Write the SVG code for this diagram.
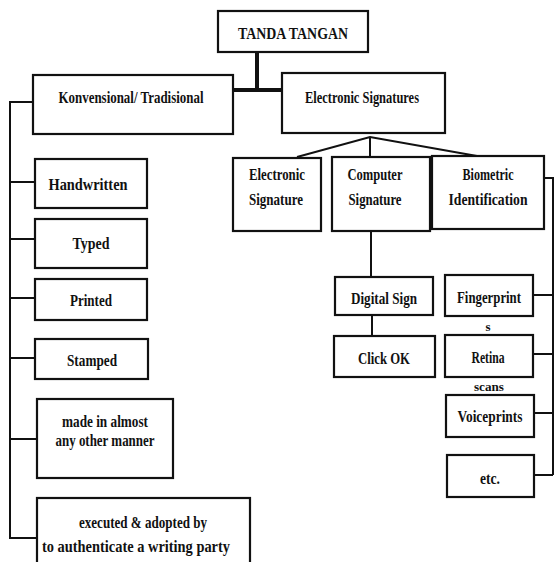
<svg xmlns="http://www.w3.org/2000/svg" width="555" height="562" viewBox="0 0 555 562">
<style>
.box{fill:#fff;stroke:#111;stroke-width:2.2}
.ln{fill:none;stroke:#111;stroke-width:2}
.thick{fill:none;stroke:#111;stroke-width:4}
text{font-family:"Liberation Serif","DejaVu Serif",serif;font-weight:bold;font-size:16.5px;fill:#111;text-anchor:middle;dominant-baseline:central}
.sm{font-size:13px}
</style>
<rect width="555" height="562" fill="#fff"/>
<g id="connectors">
<path class="thick" d="M257 52V90M233 90H282"/>
<path class="ln" d="M33 102H10V538H37M10 182H35M10 239H35M10 298H35M10 358H35M10 439H37"/>
<path class="ln" d="M297 157L370 137L477 156M370 137V157"/>
<path class="ln" d="M371 231V277M372 315V336"/>
<path class="ln" d="M544 178H553V475M533 295H553M533 354H553M534 413H553M534 475H553"/>
</g>
<g id="tanda"><rect class="box" x="218" y="11" width="150" height="41"/><text x="293" y="33" textLength="110" lengthAdjust="spacingAndGlyphs">TANDA TANGAN</text></g>
<g id="konvensional"><rect class="box" x="33" y="75" width="200" height="59"/><text x="131" y="97" textLength="145" lengthAdjust="spacingAndGlyphs">Konvensional/ Tradisional</text></g>
<g id="esignatures"><rect class="box" x="282" y="73" width="163" height="60"/><text x="362" y="97" textLength="114" lengthAdjust="spacingAndGlyphs">Electronic Signatures</text></g>
<g id="handwritten"><rect class="box" x="35" y="159" width="112" height="49"/><text x="88" y="184" textLength="79" lengthAdjust="spacingAndGlyphs">Handwritten</text></g>
<g id="typed"><rect class="box" x="35" y="219" width="112" height="49"/><text x="91" y="243" textLength="37" lengthAdjust="spacingAndGlyphs">Typed</text></g>
<g id="printed"><rect class="box" x="35" y="279" width="112" height="41"/><text x="91" y="300" textLength="42" lengthAdjust="spacingAndGlyphs">Printed</text></g>
<g id="stamped"><rect class="box" x="35" y="339" width="113" height="40"/><text x="92" y="360" textLength="50" lengthAdjust="spacingAndGlyphs">Stamped</text></g>
<g id="made"><rect class="box" x="37" y="399" width="136" height="79"/><text x="105" y="421" textLength="86" lengthAdjust="spacingAndGlyphs">made in almost</text><text x="105" y="440" textLength="99" lengthAdjust="spacingAndGlyphs">any other manner</text></g>
<g id="executed"><rect class="box" x="37" y="498" width="213" height="80"/><text x="143" y="522" textLength="128" lengthAdjust="spacingAndGlyphs">executed &amp; adopted by</text><text x="136" y="546" textLength="188" lengthAdjust="spacingAndGlyphs">to authenticate a writing party</text></g>
<g id="esignature"><rect class="box" x="233" y="158" width="88" height="73"/><text x="277" y="174" textLength="56" lengthAdjust="spacingAndGlyphs">Electronic</text><text x="276" y="199" textLength="54" lengthAdjust="spacingAndGlyphs">Signature</text></g>
<g id="computer"><rect class="box" x="332" y="157" width="98" height="74"/><text x="375" y="174" textLength="55" lengthAdjust="spacingAndGlyphs">Computer</text><text x="375" y="199" textLength="53" lengthAdjust="spacingAndGlyphs">Signature</text></g>
<g id="biometric"><rect class="box" x="432" y="156" width="112" height="73"/><text x="488" y="174" textLength="51" lengthAdjust="spacingAndGlyphs">Biometric</text><text x="488" y="199" textLength="79" lengthAdjust="spacingAndGlyphs">Identification</text></g>
<g id="digitalsign"><rect class="box" x="335" y="277" width="98" height="38"/><text x="384" y="298" textLength="66" lengthAdjust="spacingAndGlyphs">Digital Sign</text></g>
<g id="clickok"><rect class="box" x="334" y="336" width="101" height="41"/><text x="384" y="358" textLength="52" lengthAdjust="spacingAndGlyphs">Click OK</text></g>
<g id="fingerprint"><rect class="box" x="445" y="275" width="88" height="41"/><text x="489" y="297" textLength="64" lengthAdjust="spacingAndGlyphs">Fingerprint</text><text x="488" y="326" class="sm">s</text></g>
<g id="retina"><rect class="box" x="445" y="335" width="88" height="42"/><text x="488" y="357" textLength="33" lengthAdjust="spacingAndGlyphs">Retina</text><text x="489" y="386" class="sm" textLength="30" lengthAdjust="spacingAndGlyphs">scans</text></g>
<g id="voiceprints"><rect class="box" x="446" y="395" width="88" height="42"/><text x="490" y="416" textLength="65" lengthAdjust="spacingAndGlyphs">Voiceprints</text></g>
<g id="etc"><rect class="box" x="447" y="455" width="87" height="42"/><text x="490" y="478" textLength="20" lengthAdjust="spacingAndGlyphs">etc.</text></g>
</svg>
